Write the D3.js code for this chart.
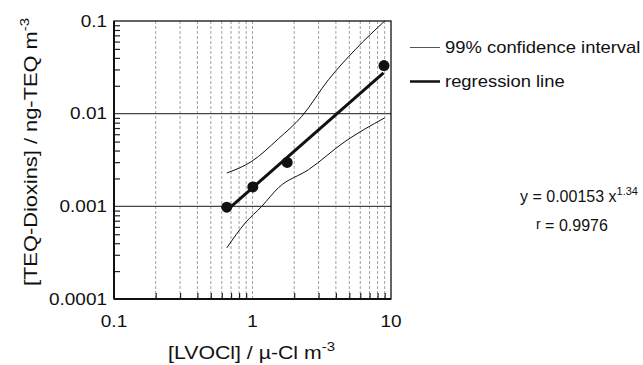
<!DOCTYPE html>
<html>
<head>
<meta charset="utf-8">
<script src="https://cdn.jsdelivr.net/npm/d3@7"></script>
<style>
  body { margin: 0; background: #fff; }
  svg { font-family: "Liberation Sans", Arial, sans-serif; }
</style>
</head>
<body>
<div id="svg-container"></div>
<script>
// measured points
const lvocl = [0.652, 1.005, 1.78, 8.9];
const teq = [0.00098, 0.00162, 0.00298, 0.033];

// regression line end points (y = 0.00153 x^1.34)
const regX = [0.671, 8.83];
const regY = [0.00094, 0.0275];

// 99% confidence interval curves
const upperX = [0.652, 0.988, 1.54, 2.27, 3.54, 5.51, 9.0];
const upperY = [0.00229, 0.00306, 0.00537, 0.00935, 0.0233, 0.049, 0.1];
const lowerX = [0.652, 0.886, 1.167, 1.54, 2.54, 4.67, 8.98];
const lowerY = [0.000356, 0.000662, 0.001, 0.00159, 0.00249, 0.00502, 0.00899];

const xTicks = [0.1, 1, 10];
const xTickLabels = ["0.1", "1", "10"];
const yTicks = [0.0001, 0.001, 0.01, 0.1];
const yTickLabels = ["0.0001", "0.001", "0.01", "0.1"];
const yGridLines = [0.001, 0.01];

const width = 643, height = 365;
const margin = {top: 21, right: 252, bottom: 66, left: 114};
const w = width - margin.left - margin.right,
    h = height - margin.top - margin.bottom;
const wide = 1.15; // the source font runs wider than Arial

const svg = d3.select("#svg-container")
    .append("svg")
    .attr("width", width)
    .attr("height", height);

const x = d3.scaleLog().domain([0.1, 10]).range([0, w]);
const y = d3.scaleLog().domain([0.0001, 0.1]).range([h, 0]);

const g = svg.append("g")
    .attr("transform", "translate(" + margin.left + "," + margin.top + ")");

// minor values 2..9 in each decade
function minors(lo, hi) {
    const out = [];
    for (let d = lo; d < hi; d *= 10) {
        for (let k = 2; k <= 9; k++) out.push(+(d * k).toPrecision(3));
    }
    return out;
}
const xMinor = minors(0.1, 10);
const yMinor = minors(0.0001, 0.1);

// dashed vertical grid
g.selectAll(".vgrid")
    .data(xMinor.concat([1]))
    .enter().append("line")
    .attr("class", "vgrid")
    .attr("x1", d => x(d)).attr("x2", d => x(d))
    .attr("y1", 0).attr("y2", h)
    .attr("stroke", "#888")
    .attr("stroke-width", 0.8)
    .attr("stroke-dasharray", "3,2");

// solid horizontal grid
g.selectAll(".hgrid")
    .data(yGridLines)
    .enter().append("line")
    .attr("class", "hgrid")
    .attr("x1", 0).attr("x2", w)
    .attr("y1", d => y(d)).attr("y2", d => y(d))
    .attr("stroke", "#444")
    .attr("stroke-width", 1.4);

// minor ticks (inside)
g.append("g")
    .call(d3.axisLeft(y).tickValues(yMinor).tickSize(-6).tickFormat(""))
    .call(a => a.select(".domain").remove())
    .selectAll("line").attr("stroke", "#222").attr("stroke-width", 1.2);

g.append("g")
    .attr("transform", "translate(0," + h + ")")
    .call(d3.axisBottom(x).tickValues(xMinor).tickSize(-6).tickFormat(""))
    .call(a => a.select(".domain").remove())
    .selectAll("line").attr("stroke", "#222").attr("stroke-width", 1.2);

// major tick labels
g.selectAll(".ylab")
    .data(yTicks)
    .enter().append("text")
    .attr("class", "ylab")
    .attr("transform", d => "translate(-7," + y(d) + ") scale(" + wide + ",1)")
    .attr("dy", "0.35em")
    .attr("text-anchor", "end")
    .attr("font-size", 16.5)
    .attr("fill", "#111")
    .text((d, i) => yTickLabels[i]);

g.selectAll(".xlab")
    .data(xTicks)
    .enter().append("text")
    .attr("class", "xlab")
    .attr("transform", d => "translate(" + x(d) + "," + (h + 28) + ") scale(" + wide + ",1)")
    .attr("text-anchor", "middle")
    .attr("font-size", 16.5)
    .attr("fill", "#111")
    .text((d, i) => xTickLabels[i]);

// frame
g.append("rect")
    .attr("width", w).attr("height", h)
    .attr("fill", "none")
    .attr("stroke", "#111")
    .attr("stroke-width", 1.3);
g.append("line").attr("x1", 0).attr("x2", 0).attr("y1", 0).attr("y2", h)
    .attr("stroke", "#111").attr("stroke-width", 2);
g.append("line").attr("x1", 0).attr("x2", w).attr("y1", h).attr("y2", h)
    .attr("stroke", "#111").attr("stroke-width", 2);

// lines
const curve = d3.line()
    .x(d => x(d[0]))
    .y(d => y(d[1]))
    .curve(d3.curveMonotoneX);

g.append("path")
    .datum(d3.zip(upperX, upperY))
    .attr("d", curve)
    .attr("fill", "none").attr("stroke", "#111").attr("stroke-width", 1);

g.append("path")
    .datum(d3.zip(lowerX, lowerY))
    .attr("d", curve)
    .attr("fill", "none").attr("stroke", "#111").attr("stroke-width", 1);

g.append("path")
    .datum(d3.zip(regX, regY))
    .attr("d", d3.line().x(d => x(d[0])).y(d => y(d[1])))
    .attr("fill", "none").attr("stroke", "#111").attr("stroke-width", 3);

g.selectAll(".dot")
    .data(d3.zip(lvocl, teq))
    .enter().append("circle")
    .attr("class", "dot")
    .attr("cx", d => x(d[0]))
    .attr("cy", d => y(d[1]))
    .attr("r", 5.5)
    .attr("fill", "#111");

// axis titles
const yTitle = svg.append("text")
    .attr("transform", "translate(37," + (margin.top + h / 2 - 8) + ") rotate(-90) scale(" + wide + ",1)")
    .attr("text-anchor", "middle")
    .attr("font-size", 19)
    .attr("fill", "#111");
yTitle.append("tspan").text("[TEQ-Dioxins] / ng-TEQ m");
yTitle.append("tspan").attr("dy", -8).attr("font-size", 13).text("-3");

const xTitle = svg.append("text")
    .attr("transform", "translate(" + (margin.left + x(1) - 1) + ",359) scale(" + wide + ",1)")
    .attr("text-anchor", "middle")
    .attr("font-size", 18.5)
    .attr("fill", "#111");
xTitle.append("tspan").text("[LVOCl] / \u00b5-Cl m");
xTitle.append("tspan").attr("dy", -8).attr("font-size", 13).text("-3");

// legend
const legend = svg.append("g");
legend.append("line").attr("x1", 410).attr("x2", 440).attr("y1", 47.5).attr("y2", 47.5)
    .attr("stroke", "#555").attr("stroke-width", 1);
legend.append("text").attr("transform", "translate(445,53) scale(1.13,1)")
    .attr("font-size", 16.3).attr("fill", "#111")
    .text("99% confidence interval");
legend.append("line").attr("x1", 410).attr("x2", 440).attr("y1", 81.5).attr("y2", 81.5)
    .attr("stroke", "#111").attr("stroke-width", 2.5);
legend.append("text").attr("transform", "translate(445,87) scale(1.13,1)")
    .attr("font-size", 16.3).attr("fill", "#111")
    .text("regression line");

// equation
const eq = svg.append("text").attr("x", 520).attr("y", 202).attr("font-size", 16).attr("fill", "#111");
eq.append("tspan").text("y = 0.00153 x");
eq.append("tspan").attr("dy", -7).attr("font-size", 11).text("1.34");

const rt = svg.append("text").attr("x", 536).attr("y", 231).attr("font-size", 16).attr("fill", "#111");
rt.append("tspan").attr("dy", -2).attr("font-size", 14).text("r");
rt.append("tspan").attr("dy", 2).text(" = 0.9976");
</script>
</body>
</html>
